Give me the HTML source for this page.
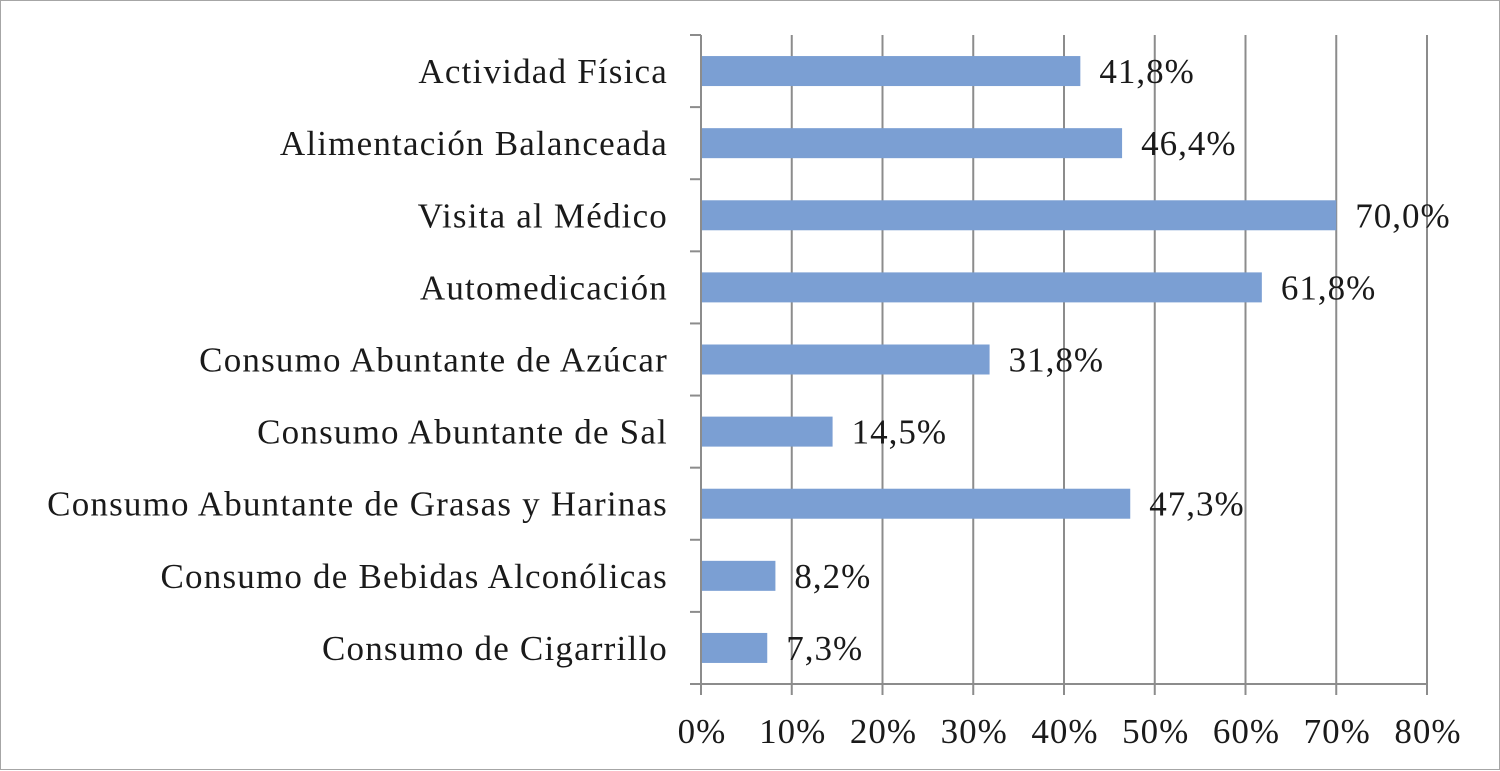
<!DOCTYPE html>
<html><head><meta charset="utf-8"><style>
html,body{margin:0;padding:0;background:#fff}
svg{display:block}
text{font-family:"Liberation Serif",serif;fill:#1a1a1a}
</style></head><body>
<svg id="chart" width="1500" height="771">
<rect x="0.5" y="0.5" width="1499" height="769" fill="#fff" stroke="#a6a6a6"/>
<g id="grid"></g>
<g id="bars"></g>
<g id="axes"></g>
</svg>
<script>
const categories = ["Actividad Física","Alimentación Balanceada","Visita al Médico","Automedicación","Consumo Abuntante de Azúcar","Consumo Abuntante de Sal","Consumo Abuntante de Grasas y Harinas","Consumo de Bebidas Alconólicas","Consumo de Cigarrillo"];
const values = [41.8,46.4,70.0,61.8,31.8,14.5,47.3,8.2,7.3];
const valueLabels = ["41,8%","46,4%","70,0%","61,8%","31,8%","14,5%","47,3%","8,2%","7,3%"];
const ticks = [0,10,20,30,40,50,60,70,80];
const tickLabels = ["0%","10%","20%","30%","40%","50%","60%","70%","80%"];

const NS="http://www.w3.org/2000/svg";
const x0=701, x1=1427, yTop=35, yBot=684;
const xs=v=>x0+(v/80)*(x1-x0);
const band=(yBot-yTop)/categories.length;
const yc=i=>yTop+band*(i+0.5);
function mk(tag,attrs,parent){const e=document.createElementNS(NS,tag);for(const k in attrs)e.setAttribute(k,attrs[k]);parent.appendChild(e);return e;}
const grid=document.getElementById('grid'),bars=document.getElementById('bars'),axes=document.getElementById('axes');

ticks.forEach((t,i)=>{
  if(t>0){const l=mk('line',{x1:xs(t),x2:xs(t),y1:yTop,y2:yBot+11,stroke:'#8c8c8c','stroke-width':2},grid);
  
  }
  const tx=mk('text',{x:xs(t)+1,y:743,'text-anchor':'middle','font-size':35,'letter-spacing':1},axes);
  tx.textContent=tickLabels[i];
  
  
});
const ya=mk('line',{x1:x0,x2:x0,y1:yTop,y2:yBot+11,stroke:'#8c8c8c','stroke-width':2},axes);


const xa=mk('line',{x1:x0-11,x2:x1,y1:yBot,y2:yBot,stroke:'#8c8c8c','stroke-width':2},axes);


for(let i=0;i<=categories.length;i++){
  const y=yTop+band*i;
  const tk=mk('line',{x1:x0-11,x2:x0,y1:y,y2:y,stroke:'#8c8c8c','stroke-width':2},axes);
  
  
}
categories.forEach((c,i)=>{
  const y=yc(i);
  const r=mk('rect',{x:x0,y:y-15,width:xs(values[i])-x0,height:30,fill:'#7b9fd3'},bars);
  
  
  const vl=mk('text',{x:xs(values[i])+19,y:y+12,'font-size':35,'letter-spacing':1},bars);
  vl.textContent=valueLabels[i];
  
  
  const cl=mk('text',{x:668,y:y+12,'text-anchor':'end','font-size':35,'letter-spacing':1.2},axes);
  cl.textContent=c;
  
  
});
</script>
</body></html>
